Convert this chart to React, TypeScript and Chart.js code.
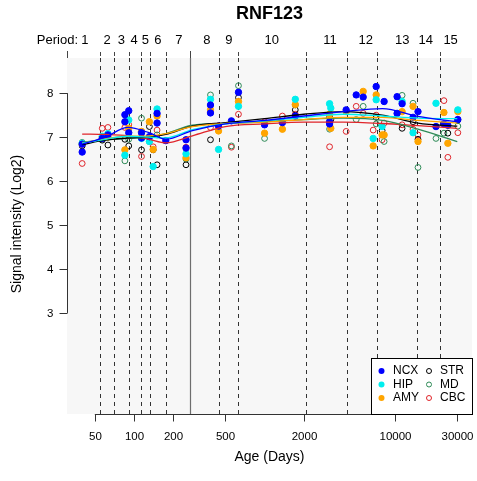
import React, { useEffect, useRef } from "react";
import { Chart, registerables } from "chart.js";
Chart.register(...registerables);

const chartTitle = "RNF123";
const xTitle = "Age (Days)";
const yTitle = "Signal intensity (Log2)";

// sample ages (days)
const ages = [40, 57, 63, 85, 91, 114, 131, 140, 150, 175, 250, 385, 444, 557, 631, 1000, 1370, 1720, 3150, 3220, 4220, 5040, 5700, 6800, 7170, 7960, 8250, 10370, 11330, 13740, 15000, 20600, 23700, 25400, 30300];
const ncxA = [6.66, 6.97, 7.05, 7.51, 7.6, 7.1, 7.01, null, 7.54, 6.92, 6.94, 7.73, 7.25, 7.37, 8.02, 7.28, 7.33, 7.48, 7.35, null, 7.62, 7.96, 7.91, null, 8.15, null, 7.81, 7.92, 7.76, 7.45, 7.58, 7.24, 7.3, 7.27, 7.4];
const ncxB = [6.84, null, null, 7.35, 7.1, 6.98, null, null, 7.32, null, 6.75, 7.55, null, null, null, null, null, null, 7.3, null, null, null, null, null, null, null, null, 7.54, null, null, null, null, null, null, null];
const hip = [6.86, 7.02, 7.08, 6.59, 7.39, 6.97, 6.9, 6.33, 7.64, null, 6.62, 7.86, 6.72, null, 7.7, null, null, 7.86, 7.76, 7.66, null, null, null, 6.97, 7.85, 7.24, null, null, 7.81, 7.1, null, 7.77, null, null, 7.62];
const amy = [6.84, 7.0, 7.0, 6.71, 7.2, 7.13, 7.35, 6.72, 7.48, null, 6.53, 7.62, 7.14, null, 7.81, 7.09, 7.18, 7.74, 7.52, 7.2, 7.58, null, 8.04, 6.8, 7.96, 7.05, 7.05, null, 7.58, 7.7, 6.9, null, 7.56, 6.86, 7.58];
const str = [6.8, 6.93, 6.82, 6.95, 6.8, 6.71, 7.24, 6.71, 6.37, null, 6.37, 6.94, null, null, 7.9, null, null, 7.62, 7.45, 7.4, null, null, null, null, 7.45, 7.15, null, null, 7.2, 7.35, 6.95, null, null, 7.09, 7.39];
const md = [6.88, 6.95, 7.0, 6.46, 6.95, 7.43, 7.0, null, 7.05, null, 6.5, 7.96, null, 6.8, 8.17, 6.97, null, 7.73, 7.18, null, null, 7.4, 7.7, null, 7.3, null, 6.9, null, 7.95, 7.77, 6.31, 6.97, 7.09, null, 7.25];
const cbc = [6.4, 7.2, 7.22, 7.22, 7.28, 6.56, 6.9, 6.78, 7.16, null, 6.77, 7.22, 7.26, 6.77, 7.52, 7.35, 7.48, 7.52, 6.78, null, 7.13, 7.7, 7.54, 7.16, 7.5, 6.94, 7.32, null, 7.28, 7.18, 7.05, null, 7.83, 6.54, 7.1];

// fitted trend curves
const fitAges = [40, 60, 90, 130, 175, 280, 500, 1000, 2000, 4000, 8000, 15000, 30000];
const fitNCX = [6.84, 7.0, 7.22, 7.1, 6.95, 7.15, 7.3, 7.38, 7.48, 7.58, 7.65, 7.47, 7.35];
const fitHIP = [6.86, 6.95, 7.02, 7.0, 6.98, 7.17, 7.3, 7.37, 7.45, 7.52, 7.48, 7.43, 7.42];
const fitAMY = [6.86, 6.96, 7.02, 7.03, 7.08, 7.24, 7.31, 7.34, 7.4, 7.45, 7.45, 7.38, 7.32];
const fitSTR = [6.83, 6.93, 6.98, 7.0, 7.06, 7.25, 7.33, 7.42, 7.52, 7.58, 7.5, 7.32, 7.25];
const fitMD = [6.88, 6.94, 6.97, 7.0, 7.08, 7.27, 7.31, 7.35, 7.4, 7.43, 7.38, 7.18, 6.9];
const fitCBC = [7.07, 7.06, 7.03, 6.95, 6.87, 7.03, 7.24, 7.3, 7.34, 7.34, 7.31, 7.26, 7.2];

const periodBounds = [55, 70, 91, 112, 133, 175, 448, 631, 2085, 4280, 7250, 14700, 22000];
const birthAge = 266;
const periodLabels = ["1", "2", "3", "4", "5", "6", "7", "8", "9", "10", "11", "12", "13", "14", "15"];
const periodLabelAges = [41.9, 62.1, 80, 99.9, 122.1, 152.4, 220.6, 361, 532, 1134, 3170, 5973, 11376, 17175, 26670];
const xTicks = [50, 100, 200, 500, 2000, 10000, 30000];
const yTicks = [3, 4, 5, 6, 7, 8];

const FONT = '"Liberation Sans", Arial, Helvetica, sans-serif';

const C_NCX = "#0000FF";
const C_HIP = "#00EEEE";
const C_AMY = "#FFA500";
const C_STR = "#000000";
const C_MD = "#2E8B57";
const C_CBC = "#E0242A";

function pts(vals: (number | null)[]) {
  const out: { x: number; y: number }[] = [];
  vals.forEach((v, i) => {
    if (v !== null) out.push({ x: ages[i], y: v });
  });
  return out;
}
function fit(vals: number[]) {
  return vals.map((v, i) => ({ x: fitAges[i], y: v }));
}

const legendItems = [
  { label: "NCX", color: C_NCX, filled: true },
  { label: "HIP", color: C_HIP, filled: true },
  { label: "AMY", color: C_AMY, filled: true },
  { label: "STR", color: C_STR, filled: false },
  { label: "MD", color: C_MD, filled: false },
  { label: "CBC", color: C_CBC, filled: false },
];

const decorPlugin = {
  id: "decor",
  beforeDatasetsDraw(chart: any) {
    const { ctx, chartArea: a, scales } = chart;
    const x = scales.x;
    ctx.save();
    ctx.fillStyle = "#F7F7F7";
    ctx.fillRect(a.left, a.top, a.right - a.left, a.bottom - a.top);
    ctx.strokeStyle = "#333";
    ctx.lineWidth = 1;
    ctx.setLineDash([4, 4]);
    for (const b of periodBounds) {
      const px = Math.round(x.getPixelForValue(b)) + 0.5;
      ctx.beginPath();
      ctx.moveTo(px, a.top);
      ctx.lineTo(px, a.bottom);
      ctx.stroke();
    }
    ctx.setLineDash([]);
    ctx.strokeStyle = "#6E6E6E";
    ctx.lineWidth = 1.2;
    const bx = Math.round(x.getPixelForValue(birthAge)) + 0.5;
    ctx.beginPath();
    ctx.moveTo(bx, a.top);
    ctx.lineTo(bx, a.bottom);
    ctx.stroke();
    ctx.restore();
  },
  afterDraw(chart: any) {
    const { ctx, chartArea: a, scales } = chart;
    const x = scales.x;
    const y = scales.y;
    ctx.save();
    ctx.fillStyle = "#000";
    ctx.strokeStyle = "#333";
    ctx.lineWidth = 1;

    // title
    ctx.font = `bold 18px ${FONT}`;
    ctx.textAlign = "center";
    ctx.textBaseline = "middle";
    ctx.fillText(chartTitle, (a.left + a.right) / 2, 14);

    // period labels
    ctx.font = `13px ${FONT}`;
    ctx.textAlign = "right";
    ctx.fillText("Period:", 78, 40);
    ctx.textAlign = "center";
    periodLabels.forEach((lab, i) => {
      ctx.fillText(lab, x.getPixelForValue(periodLabelAges[i]), 40);
    });
    // small top ticks
    ctx.strokeStyle = "#444";
    for (const b of periodBounds) {
      const px = Math.round(x.getPixelForValue(b)) + 0.5;
      ctx.beginPath();
      ctx.moveTo(px, a.top - 6);
      ctx.lineTo(px, a.top - 2);
      ctx.stroke();
    }
    for (const px0 of [a.left, x.getPixelForValue(birthAge)]) {
      const px = Math.round(px0) + 0.5;
      ctx.beginPath();
      ctx.moveTo(px, a.top - 7);
      ctx.lineTo(px, a.top);
      ctx.stroke();
    }

    // y axis
    ctx.strokeStyle = "#333";
    const ax = Math.round(a.left) + 0.5;
    ctx.beginPath();
    ctx.moveTo(ax, y.getPixelForValue(yTicks[0]));
    ctx.lineTo(ax, y.getPixelForValue(yTicks[yTicks.length - 1]));
    ctx.stroke();
    ctx.font = `11.5px ${FONT}`;
    ctx.textAlign = "right";
    ctx.textBaseline = "middle";
    for (const t of yTicks) {
      const py = Math.round(y.getPixelForValue(t)) + 0.5;
      ctx.beginPath();
      ctx.moveTo(ax - 8, py);
      ctx.lineTo(ax, py);
      ctx.stroke();
      ctx.fillText(String(t), ax - 14, py);
    }

    // x axis
    const ay = Math.round(a.bottom) + 0.5;
    ctx.beginPath();
    ctx.moveTo(x.getPixelForValue(xTicks[0]), ay);
    ctx.lineTo(x.getPixelForValue(xTicks[xTicks.length - 1]), ay);
    ctx.stroke();
    ctx.textAlign = "center";
    for (const t of xTicks) {
      const px = Math.round(x.getPixelForValue(t)) + 0.5;
      ctx.beginPath();
      ctx.moveTo(px, ay);
      ctx.lineTo(px, ay + 7);
      ctx.stroke();
      ctx.fillText(String(t), px, ay + 22);
    }

    // axis titles
    ctx.font = `14px ${FONT}`;
    ctx.fillText(xTitle, (a.left + a.right) / 2, 457);
    ctx.save();
    ctx.translate(17, 224);
    ctx.rotate(-Math.PI / 2);
    ctx.fillText(yTitle, 0, 0);
    ctx.restore();

    // legend
    const lw = 101;
    const lh = 56;
    const lx = Math.round(a.right) - lw;
    const ly = Math.round(a.bottom) - lh;
    ctx.fillStyle = "#fff";
    ctx.fillRect(lx, ly, lw, lh);
    ctx.strokeStyle = "#000";
    ctx.strokeRect(lx + 0.5, ly + 0.5, lw, lh);
    ctx.font = `12px ${FONT}`;
    ctx.textAlign = "left";
    ctx.textBaseline = "middle";
    const rows = [13, 26.5, 40];
    legendItems.forEach((it, i) => {
      const col = Math.floor(i / 3);
      const row = i % 3;
      const sx = lx + (col === 0 ? 10.5 : 58);
      const tx = lx + (col === 0 ? 22 : 69);
      const sy = ly + rows[row];
      ctx.beginPath();
      ctx.arc(sx, sy, it.filled ? 3 : 2.5, 0, Math.PI * 2);
      if (it.filled) {
        ctx.fillStyle = it.color;
        ctx.fill();
      } else {
        ctx.strokeStyle = it.color;
        ctx.lineWidth = 1;
        ctx.stroke();
      }
      ctx.fillStyle = "#000";
      ctx.fillText(it.label, tx, sy);
    });
    ctx.restore();
  },
};

function pointSet(label: string, data: any[], color: string, filled: boolean) {
  return {
    type: "scatter" as const,
    label,
    data,
    showLine: false,
    pointRadius: filled ? 3.2 : 2.9,
    pointBorderWidth: 1,
    borderColor: color,
    backgroundColor: filled ? color : "rgba(0,0,0,0)",
    order: 2,
  };
}
function lineSet(label: string, data: any[], color: string) {
  return {
    type: "line" as const,
    label,
    data,
    showLine: true,
    pointRadius: 0,
    borderColor: color,
    borderWidth: 1.3,
    backgroundColor: color,
    fill: false,
    cubicInterpolationMode: "monotone" as const,
    order: 1,
  };
}

export default function App() {
  const ref = useRef<HTMLCanvasElement | null>(null);
  useEffect(() => {
    if (!ref.current) return;
    const chart = new Chart(ref.current, {
      type: "scatter",
      data: {
        datasets: [
          pointSet("NCX", pts(ncxA).concat(pts(ncxB)), C_NCX, true),
          pointSet("HIP", pts(hip), C_HIP, true),
          pointSet("AMY", pts(amy), C_AMY, true),
          pointSet("STR", pts(str), C_STR, false),
          pointSet("MD", pts(md), C_MD, false),
          pointSet("CBC", pts(cbc), C_CBC, false),
          lineSet("NCX fit", fit(fitNCX), C_NCX),
          lineSet("HIP fit", fit(fitHIP), C_HIP),
          lineSet("AMY fit", fit(fitAMY), C_AMY),
          lineSet("STR fit", fit(fitSTR), C_STR),
          lineSet("MD fit", fit(fitMD), C_MD),
          lineSet("CBC fit", fit(fitCBC), C_CBC),
        ] as any,
      },
      options: {
        animation: false,
        responsive: false,
        devicePixelRatio: 1,
        layout: { padding: { left: 67, right: 4, top: 58, bottom: 67 } },
        plugins: { legend: { display: false }, tooltip: { enabled: false }, title: { display: false } },
        scales: {
          x: { type: "logarithmic", min: 30.6, max: 38900, display: false },
          y: { type: "linear", min: 0.7, max: 8.8, display: false },
        },
      } as any,
      plugins: [decorPlugin],
    });
    return () => chart.destroy();
  }, []);
  return (
    <div style={{ position: "absolute", left: 0, top: 0, width: 477, height: 481, background: "#fff" }}>
      <canvas ref={ref} width={477} height={481} style={{ display: "block" }} />
    </div>
  );
}
